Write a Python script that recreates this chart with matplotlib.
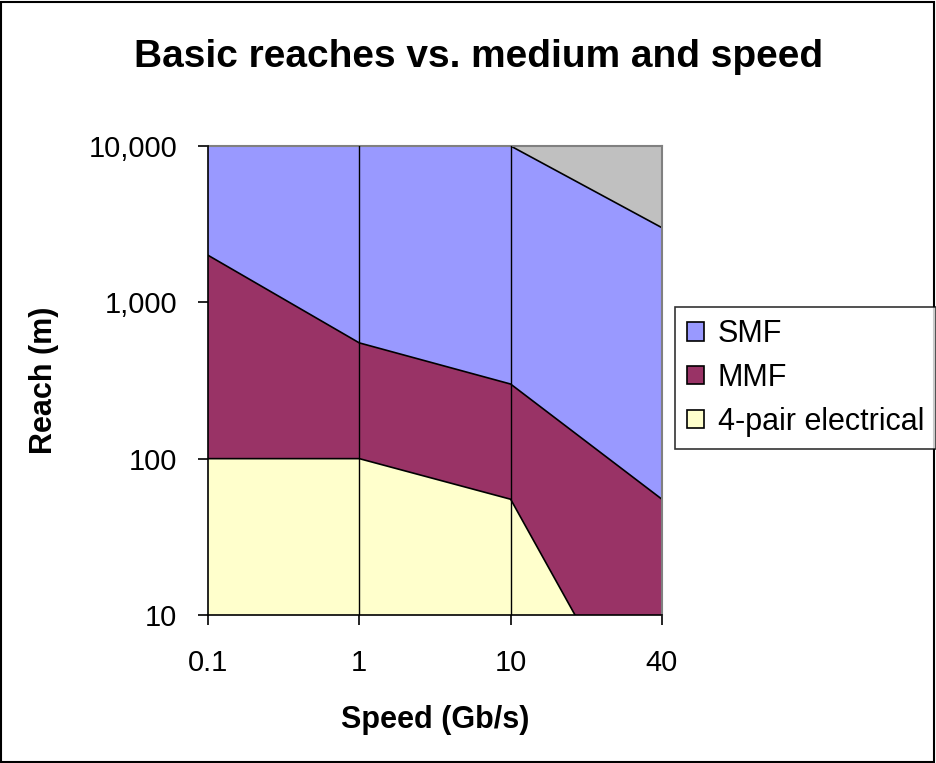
import matplotlib
matplotlib.use("Agg")
import matplotlib.pyplot as plt
from matplotlib.patches import Patch, Rectangle

plt.rcParams['font.family'] = ['Liberation Sans', 'DejaVu Sans']

# data
speeds = ["0.1", "1", "10", "40"]
smf = [10000, 10000, 10000, 3000]
mmf = [2000, 550, 300, 55]
electrical = [100, 100, 55, 1]

series = [("SMF", smf, "#9999FF"),
          ("MMF", mmf, "#993366"),
          ("4-pair electrical", electrical, "#FFFFCC")]

fig = plt.figure(figsize=(9.36, 7.63), dpi=100)
ax = fig.add_axes([0.2222, 0.1940, 0.4850, 0.6147])
ax.set_facecolor("#C0C0C0")

x = list(range(len(speeds)))
for i, (name, vals, col) in enumerate(series):
    ax.fill_between(x, 1e-3, vals, facecolor=col, edgecolor="none", zorder=1 + i)
    ax.plot(x, vals, color="black", lw=1.2, zorder=1.5 + i)
    ax.plot([x[-1], x[-1]], [1e-3, vals[-1]], color="black", lw=2, zorder=1.5 + i)

# category gridlines drawn over the areas
for xi in x[1:-1]:
    ax.axvline(xi, color="black", lw=1, zorder=10)

ax.set_yscale("log")
ax.set_ylim(10, 10000)
ax.set_xlim(0, 3)
ax.set_yticks([10, 100, 1000, 10000])
ax.set_yticklabels(["10", "100", "1,000", "10,000"])
ax.minorticks_off()
ax.set_xticks(x)
ax.set_xticklabels(speeds)
ax.tick_params(axis="both", direction="out", length=7.5, width=1.2, labelsize=21, color="black")
ax.tick_params(axis="y", pad=14.5)
ax.tick_params(axis="x", pad=17)

for s in ["left", "bottom"]:
    ax.spines[s].set_color("black")
    ax.spines[s].set_linewidth(1.2)
    ax.spines[s].set_zorder(11)
for s in ["top", "right"]:
    ax.spines[s].set_color("#808080")
    ax.spines[s].set_linewidth(1.5)

fig.text(0.465, 0.056, "Speed (Gb/s)", fontsize=22, fontweight="bold",
         ha="center", va="center")
fig.text(0.047, 0.502, "Reach (m)", rotation=90, fontsize=22, fontweight="bold",
         ha="center", va="center")
fig.text(0.511, 0.925, "Basic reaches vs. medium and speed", fontsize=28,
         fontweight="bold", ha="center", va="center")

handles = [Patch(facecolor=c, edgecolor="black", lw=1.2, label=n) for n, _, c in series]
leg = fig.legend(handles=handles, loc="upper left", bbox_to_anchor=(0.7212, 0.5976),
                 fontsize=22, frameon=True, fancybox=False, edgecolor="black",
                 handlelength=0.55, handleheight=0.55, handletextpad=0.45,
                 borderpad=0.4, labelspacing=0.45, borderaxespad=0)
leg.get_frame().set_linewidth(1.2)

fig.patches.append(Rectangle((0.001, 0.001), 0.997, 0.997, transform=fig.transFigure,
                             fill=False, edgecolor="black", lw=1.5))

fig.savefig("out.png", dpi=100)
